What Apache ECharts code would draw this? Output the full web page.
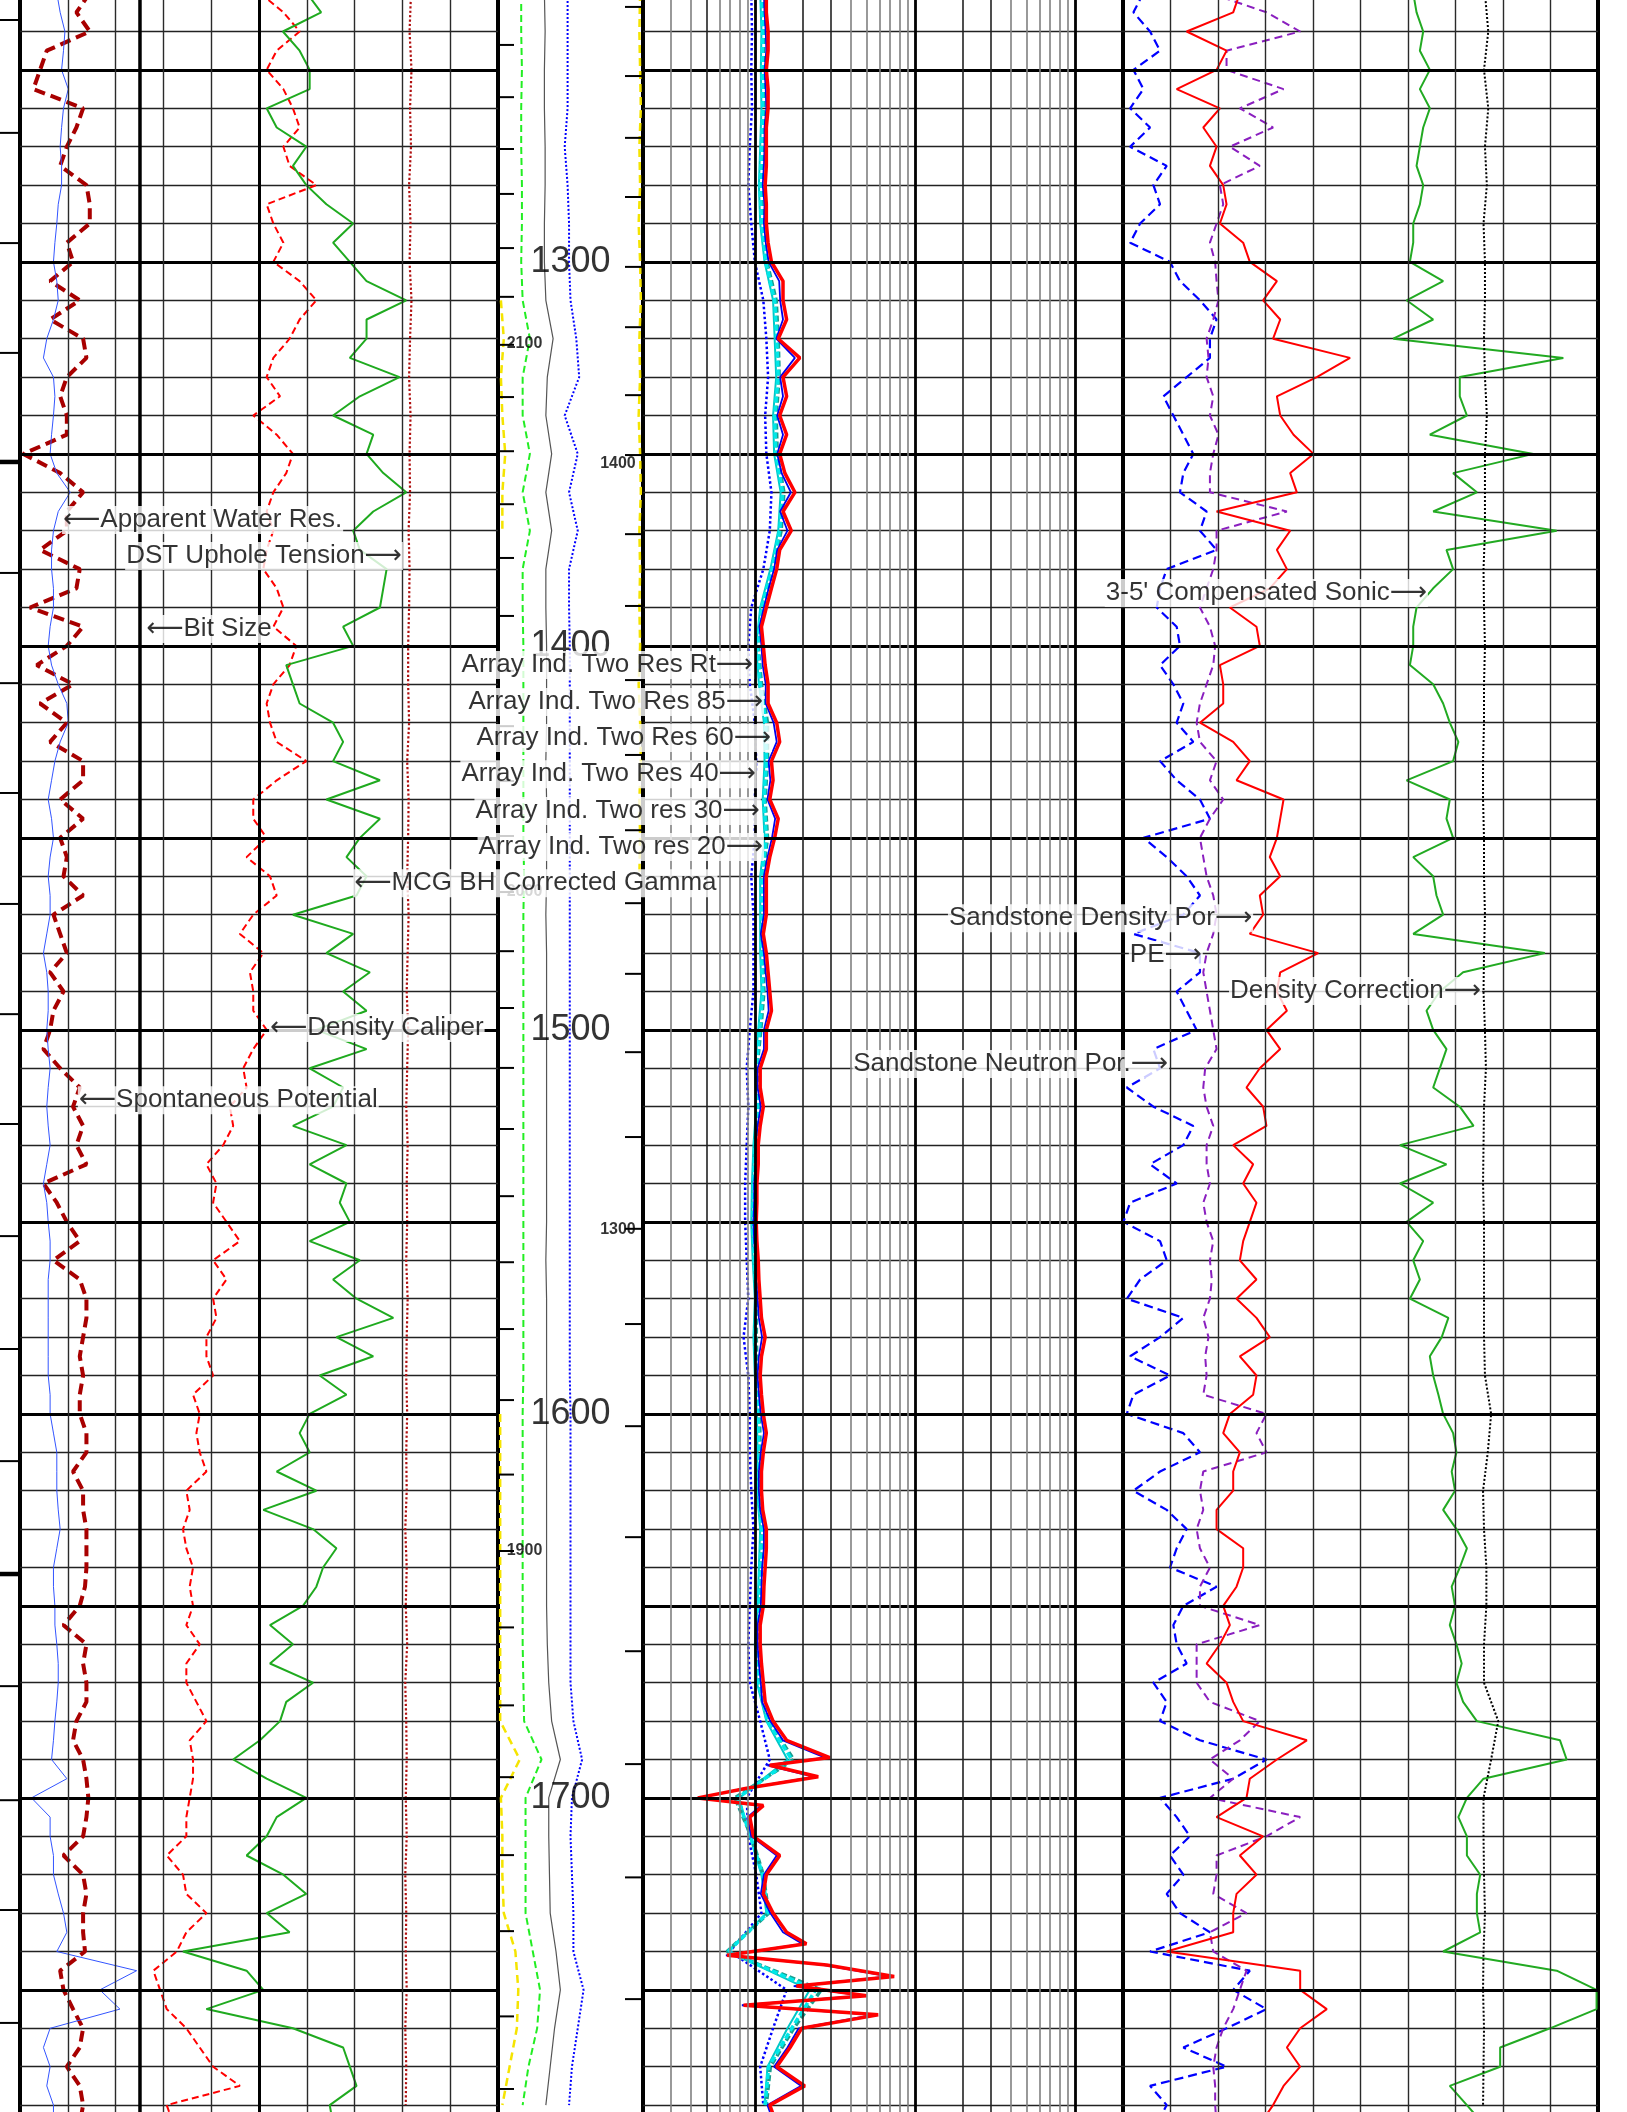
<!DOCTYPE html>
<html><head><meta charset="utf-8">
<script src="https://cdn.jsdelivr.net/npm/echarts/dist/echarts.min.js"></script>
<style>html,body{margin:0;padding:0;background:#fff}#c{width:1627px;height:2112px}</style>
</head><body><div id="c"></div>
<script>
const FONT = "'Liberation Sans', Arial, 'DejaVu Sans', sans-serif";

// ---- depth sampling (ft) ----
const depth = []; for (let d = 1230; d <= 1785; d += 5) depth.push(d);        // 112
const depth10 = []; for (let d = 1230; d <= 1780; d += 10) depth10.push(d);   // 56
const resDepth = []; for (let d = 1230; d <= 1685; d += 5) resDepth.push(d);
resDepth.push(1689.5,1691.5,1694.5,1697.5,1700,1702,1705, 1710,1715,1720,1725,1730,1735,
  1738,1741,1743.5,1746.5,1749,1751.5,1754,1756.5, 1760,1765,1770,1775,1780,1785); // 119

// ---- Track 1 (percent of track width) ----
const spontaneousPotential = [14.6,11.8,14.6,5.6,4.2,2.8,13.2,11.8,9.8,8.4,13.9,14.6,14.6,9.8,11.1,6.3,12.5,6.3,13.2,13.9,9.8,8.4,9.8,9.8,0.7,8.4,13.2,9.8,9.8,4.2,12.5,11.8,2.1,13.2,9.8,3.5,11.1,
  4.2,9.8,6.3,13.2,13.2,8.4,13.2,8.4,9.8,9.1,13.2,7,8.4,9.8,6.3,9.1,7,6.3,4.9,8.4,12.5,11.1,13.2,11.8,13.9,4.9,7.7,9.8,12.5,7,12.5,13.9,13.9,13.2,12.5,13.2,12.5,
  12.5,13.9,13.9,11.1,13.2,13.2,13.9,13.9,13.9,13.6,12.5,9.1,13.9,13.2,13.9,13.9,11.8,11.1,13.2,13.9,14.3,13.9,13.2,9.1,13.2,13.9,13.2,13.2,13.6,8.4,9.1,11.1,13.2,12.5,9.8,12.5,13.2,12.5];
const apparentWaterRes = [7.7,8.4,9.4,9.1,8.7,10.1,9.1,8.7,8.4,8.7,8.7,8,7.7,7.3,7,7.7,8,7,5.6,4.9,7,7.3,7,6.6,6.3,7.7,10.5,8,7,6.6,6.6,7,7,6.3,5.9,6.6,8,
  9.8,10.1,8.4,7.3,6.6,5.9,6.6,7,6.3,5.9,6.3,6.3,5.6,4.9,5.6,5.9,5.9,5.6,5.9,6.3,5.9,5.6,5.9,6.3,5.6,4.9,5.6,5.9,6.3,6.3,5.9,5.9,5.9,5.9,5.9,5.9,6.3,
  6.3,7,7.7,7.7,7.7,8,8.4,7.7,7,7,7.3,7.3,7.7,8,8,7.7,7.3,7,6.6,9.8,2.4,6.3,6.3,7,7,8,9.1,9.8,7.7,24.4,16.7,20.9,6.3,4.9,6.3,5.6,7,7];
const densityCaliper = [50.2,55.1,58.5,53.7,51.6,55.1,57.1,58.5,55.1,56.4,62,51.6,53,55.1,53,58.5,62,58.5,56.4,53,51.6,54.4,48.8,53.7,57.1,55.7,53,51.6,53,51.6,50.9,53.7,55.1,53,57.8,56.4,53,
  51.6,52.3,53.7,59.9,53.7,48.8,48.8,51.6,47.4,52.3,53.7,48.8,46,50.9,48.1,48.8,48.8,51.6,48.8,46.7,47.4,43.9,44.6,42.5,39,41.1,40.4,43.2,46,40.4,43.2,40.4,41.1,39,39,40.4,36.2,
  37.6,36.9,37.6,39,34.8,35.5,34.1,34.8,36.2,35.5,36.2,34.8,37.6,34.8,34.8,36.9,39,35.5,36.2,36.2,35.5,34.8,34.8,30.7,34.1,34.8,39,34.8,32.8,27.9,29.3,30.7,34.8,37.6,40.4,46,30.7,32.1];
const bhCorrectedGamma = [60,63,55,58.5,60.6,60.6,51.6,53.7,59.9,57.1,59.9,64.1,69.7,65.5,69,72.5,80.8,72.5,72.5,69,79.4,71.1,65.5,73.9,72.5,76,80.8,73.9,69.7,71.1,76.7,76,75.3,67.6,69.7,55.7,57.1,
  58.5,65.5,67.6,65.5,75.3,64.1,75.3,71.1,68.3,72.5,70.4,57.1,69.7,64.1,73.2,67.6,72.5,62,72.5,60.6,67.6,65.5,57.1,68.3,60.6,68.3,66.9,69,60.6,71.1,65.5,70.4,78.1,66.2,73.9,62.7,68.3,
  60.6,58.5,60.6,53.7,62,50.9,61.3,66.2,63.4,62,59.2,52.3,57.1,52.3,61.3,55.7,54.4,50.2,44.6,51.6,59.9,53.7,51.6,47.4,55.1,59.9,51.6,56.4,34.1,47.4,50.9,39,57.1,67.6,69,70.4,64.8,65.5];
const upholeTension = [81.8,81.5,81.9,81.6,81.8,81.4,81.7,81.5,81.9,81.6,81.4,81.7,81.5,81.6,81.3,81.5,81.4,81.2,
  81.2,81.4,81,81.3,81.2,81,81.3,81.1,80.9,81.2,81,80.8,81.1,80.9,81,80.8,81.1,80.9,80.8,81,
  80.8,80.9,80.6,80.9,80.7,81,80.6,80.8,80.9,80.7,80.9,80.6,80.8,80.7,80.9,80.6,80.8,80.7];
const bitSize = [25.1, 25.1];
const bitSizeDepth = [1230, 1790];

// ---- Track 2 (ohm-m, log 0.2 - 200) ----
const resRt = [1.18,1.18,1.21,1.21,1.18,1.21,1.21,1.18,1.18,1.18,1.16,1.18,1.18,1.21,1.27,1.50,1.50,1.58,1.40,1.91,1.50,1.58,1.43,1.58,1.43,1.54,1.78,1.50,1.69,1.43,1.37,1.27,1.18,1.10,1.13,1.16,1.21,
  1.21,1.37,1.43,1.27,1.30,1.24,1.40,1.33,1.24,1.18,1.18,1.18,1.13,1.18,1.21,1.24,1.27,1.18,1.18,1.08,1.08,1.13,1.08,1.05,1.05,1.03,1.03,1.02,1.03,1.05,1.06,1.08,1.10,1.16,1.10,1.08,1.10,
  1.13,1.18,1.13,1.10,1.10,1.12,1.18,1.18,1.16,1.14,1.13,1.08,1.08,1.10,1.13,1.16,1.30,1.58,
  2.94,1.24,2.49,0.89,0.44,1.13,0.93, 0.98,1.43,1.18,1.13,1.30,1.58, 2.10,0.67,2.81,7.43,1.82,4.99,0.85,5.90, 1.96,1.66,1.37,2.05,1.24,1.37];
const res85 = [1.14,1.15,1.17,1.18,1.15,1.17,1.18,1.15,1.15,1.14,1.12,1.15,1.14,1.17,1.22,1.42,1.44,1.50,1.36,1.78,1.44,1.50,1.38,1.50,1.38,1.47,1.68,1.44,1.60,1.38,1.32,1.22,1.14,1.07,1.10,1.12,1.17,
  1.17,1.31,1.37,1.22,1.25,1.20,1.34,1.28,1.20,1.14,1.14,1.14,1.09,1.14,1.17,1.20,1.22,1.14,1.14,1.04,1.04,1.09,1.04,1.01,1.01,0.99,0.99,0.98,0.99,1.01,1.02,1.04,1.06,1.11,1.06,1.04,1.06,
  1.09,1.14,1.09,1.06,1.06,1.08,1.14,1.14,1.11,1.10,1.09,1.04,1.04,1.06,1.09,1.11,1.25,1.50,
  2.75,1.20,2.35,0.86,0.45,1.09,0.90, 0.95,1.37,1.14,1.09,1.25,1.50, 1.98,0.66,2.65,6.90,1.75,4.70,0.83,5.50, 1.88,1.60,1.32,1.95,1.20,1.32];
const res60 = [1.10,1.12,1.11,1.12,1.10,1.08,1.10,1.17, 1.33,1.37,1.40,1.33,1.35,1.49,1.43,1.28,1.10,1.04, 1.08,1.17,1.18,1.14,1.18,1.10,1.10,1.10,1.12,1.07,
  1.02,1.04,1.00,0.98,0.97,0.99,1.02,1.00,1.02,1.05, 1.06,1.05,1.10,1.08,1.06,1.02,1.05,1.20,1.70,0.78, 0.94,1.12,1.20,0.68,2.4,1.7,1.22,1.16];
const res40 = [1.12,1.14,1.13,1.14,1.12,1.10,1.12,1.19, 1.36,1.40,1.42,1.36,1.38,1.52,1.46,1.30,1.12,1.05, 1.10,1.20,1.20,1.16,1.20,1.12,1.12,1.12,1.14,1.09,
  1.03,1.06,1.01,0.99,0.98,1.00,1.03,1.02,1.04,1.07, 1.08,1.07,1.12,1.10,1.08,1.04,1.07,1.22,1.75,0.75, 0.95,1.13,1.22,0.67,2.6,1.75,1.25,1.18];
const res30 = [1.08,1.10,1.09,1.10,1.08,1.06,1.08,1.15, 1.30,1.33,1.36,1.30,1.32,1.45,1.40,1.25,1.08,1.02, 1.06,1.14,1.15,1.12,1.15,1.08,1.08,1.08,1.10,1.05,
  1.00,1.02,0.98,0.96,0.95,0.97,1.00,0.98,1.00,1.03, 1.04,1.03,1.08,1.06,1.04,1.00,1.03,1.18,1.60,0.80, 0.93,1.10,1.18,0.68,2.2,1.6,1.2,1.15];
const res20 = [0.95,0.96,0.95,0.96,0.93,0.91,0.95,1.0, 1.13,1.18,1.21,1.16,1.18,1.27,1.24,1.13,0.95,0.91, 0.93,1.0,1.02,1.0,1.0,0.95,0.98,0.98,0.98,0.93,
  0.89,0.91,0.89,0.87,0.87,0.89,0.91,0.85,0.91,0.93, 0.93,0.95,0.98,0.95,0.93,0.91,0.93,1.08,1.24,0.89, 0.91,1.02,1.10,0.70,1.58,1.30,1.08,1.13];

// ---- Track 3 (percent of track width) ----
const compSonic = [61.1,61.8,63.2,62.5,64.6,62.5,64.6,63.2,62.5,61.8,63.2,62.5,61.1,61.1,60.4,67.4,59.7,65.3,56.9,92.7,70.9,70.9,72.4,64.6,86.4,69.5,74.5,65.3,91.3,68.1,69.5,65.3,61.8,61.1,61.1,60.4,65.3,
  67.4,68.8,70.6,69.5,59.7,68.8,68.1,69.5,61.1,65.3,66,67.4,61.1,88.8,71.6,66.7,63.9,65.3,68.1,66.7,65.3,70.9,73.8,58.3,68.1,58.3,
  65.3,59.7,63.2,61.1,62.5,60.4,68.5,67.1,64.6,65.3,66.4,67.4,69.5,70.2,69.2,69.9,67.4,70.2,72.4,70.9,69.2,69.9,68.8,70.2,71.3,70.2,
  71.6,74.5,92,93.4,75.9,72.4,70.6,72.4,72.4,75.2,74.5,74.5,75.2,67.4,91.3,99.7,99.7,89.9,79.4,79.4,68.8,72.4,75.9];
const densityPor = [24.6,23.2,13.4,21.8,19.7,11.3,20.4,16.9,19.7,18.3,21.1,21.8,20.4,25.3,26.7,32.4,29.5,33.1,31.6,47.8,40.8,32.4,33.1,35.9,40.1,35.2,36.6,19.7,35.2,32.4,34.5,30.9,22.5,28.1,28.8,20.4,21.1,
  21.1,16.2,23.2,26.7,23.9,33.8,33.1,32.4,30.9,33.1,28.8,29.5,26.7,41.1,33.1,32.4,34.5,30.2,33.1,28.8,26,29.5,30.2,23.2,27.4,25.3,
  28.1,26.7,25.3,24.6,28.1,23.9,28.1,30.9,24.6,28.1,27.4,22.5,21.1,24.6,23.2,23.2,19.7,19.7,25.3,25.3,23.9,21.1,22.5,20.4,17.6,21.8,
  23.2,25.3,38.7,32.4,26.7,26,19.7,29.5,24.6,28.1,23.9,23.2,23.2,9.2,37.3,37.3,42.9,37.3,34.5,37.3,33.8,31.6,28.8];
const photoElectric = [18.3,30.2,37.3,21.8,21.8,33.8,24.6,31.6,22.5,28.8,20.4,21.1,19.7,18.3,19.4,19.7,20.1,19,17.6,18,17.6,19,18.3,20.1,19,18.3,18.3,34.5,19.7,19.7,19,17.6,16.2,18.3,19.4,19,17.6,
  16.2,15.5,16.2,19.7,18.3,21.1,18.3,16.2,16.9,17.6,19,19.7,19,17.6,16.9,17.6,18.3,19,19.7,17.3,16.9,17.6,19,17.6,17.6,18.3,
  16.9,17.6,19,18.3,18.7,18.3,16.9,18,17.3,17.6,16.9,30.2,28.1,30.2,16.9,16.2,16.9,15.5,16.2,18.3,16.2,16.2,28.8,15.5,15.5,15.5,
  18.3,28.8,24.6,18.3,23.2,18.3,37.3,30.2,19.7,19.7,19,26,18.3,19,26,24.6,23.2,21.1,19.7,19,19.4,19.4,19.7];
const neutronPor = [4.3,2.2,5.7,7.8,2.2,4.3,1.5,5.7,1.5,9.2,6.4,7.8,3.6,1.5,9.9,12,16.2,19.7,18.3,18.3,13.4,8.5,10.6,12.7,14.8,12.7,12,17.6,16.2,19.7,9.2,7.8,7.1,11.3,12,7.8,10.6,
  12.7,11.3,14.8,7.8,11.3,16.2,18.3,4.3,9.2,13.4,16.2,12.7,2.2,16.2,16.2,11.3,13.4,15.5,6.4,7.8,0.8,6.4,14.8,12.7,5.7,11.3,
  1.5,0.1,7.8,9.2,3.6,0.8,12.7,7.8,1.5,9.9,2.2,0.8,12.7,16.2,7.8,2.2,9.2,13.4,11.3,9.9,19.7,12.7,10.6,11.3,13.4,6.4,
  9.2,7.8,16.2,30.2,23.2,7.8,11.3,14.1,9.9,12.7,9.2,12,18.3,5.7,26.7,23.2,30.2,21.8,12.7,21.8,5.7,9.2,7.1];
const densityCorr = [76.2,76.9,76,76.9,76.2,76.6,75.9,76.2,76.2,76,76.2,76.6,76.2,76.2,76.2,75.9,76,76.2,76,76,
  75.8,75.8,76,76,76.2,76,75.9,76.2,76.4,76,75.9,75.8,76,76,76,76,76.2,77.5,76.8,75.8,
  76,76.5,76.5,76,76,79,77.5,75.9,75.9,76,76.2,75.9,75.8,76,75.9,75.8];

// ---- Depth track overlay curves (percent of depth-track width) ----
const N = null;
const dtYellowL = [N,N,N,N,N,N,N,N, 2,4,2,3,5,3,3,N,N,N, N,N,N,N,N,N,N,N,N,N, N,N,N,N,N,N,N,N,N,1.5, 1.5,1.5,1.5,1.5,1.5,1.5,1.5,1.5,15,2, 3,3,4,12,14,13,8,3];
const dtYellowR = [98,97.5,98,98.5,97.5,98,97,98,98.5,97.5,98,97,98,98.5,97.5,98,97.5,98,97,98,98.5,97.5,98,97.5,
  N,N,N,N,N,N,N,N,N,N,N,N,N,N,N,N,N,N,N,N,N,N,N,N,N,N,N,N,N,N,N,N];
const dtGreen = [16,16,16.5,16,16,16.5,16.5,16, 17,22,17,17,22,17,22,17,17,17.5, 17.5,17.5,17.5,17.5,17.5,18,17.5,17.5,17.5,17.5,
  17.5,17.5,17.5,17.5,17.5,17.5,17.5,17.5,17.5,17, 17,17,17,17,17,17,17.5,18,30,19, 19,19,19,24,29,27,21,17];
const dtGray = [32,32.5,32,32,32.5,32.5,32,32, 33,38,34,33,37,33,37,33,33,33.5, 33.5,33.5,33,33.5,33.5,33.5,33,33.5,33.5,33.5,
  33.5,33.5,33.5,33.5,33.5,33,33.5,33.5,33.5,33.5, 33.5,33.5,33.5,33.5,33.5,34,35,37,43,35, 35,35.5,36,40,43,39,36,33];
const dtBlue = [48,48,48,48,46,48,49,49, 50,54,56,46,55,49,55,49,49,49.5, 49.5,49.5,49.5,49.5,49.5,49.5,49.5,49.5,49.5,49.5,
  49.5,49.5,49.5,49.5,49.5,49.5,49.5,49.5,49.5,50, 50,50,50,50,50,50,50,52,58,51, 50,51,52,52,59,55,51,49];

// ---- ticks / labels / grid positions ----
const edgeTicks = [1237.0,1266.4,1295.1,1323.7,1352.1,1381.0,1409.7,1438.3,1467.2,1495.9,1524.5,1553.7,1583.1,1612.3,1641.7,1670.9,1700.6,1729.2,1758.6];
const edgeMajor = [1352.1, 1641.7];
const dtLeftTicks = [1243.5,1257.1,1270.6,1282.3,1296.4,1309.1,1321.6,1335.2,1349.3,1363.1,1377.1,1392.2,1406.5,1420.9,1435.2,1449.5,1464.1,1479.5,1494.3,1509.9,1525.8,1543.3,1560.5,1577.9,1596.4,1615.8,1635.7,1655.6,1675.9,1694.6,1714.9,1734.7,1756.9,1775.8];
const dtRightTicks = [1233.6,1251.6,1267.7,1283.1,1301.3,1317,1334.7,1350.3,1370.9,1389.6,1408.9,1428.4,1448,1467,1485.4,1505.8,1527.9,1551.8,1576.6,1603.2,1632.1,1661.8,1691.2,1720.7,1752.4];
const depthLabels = [1300, 1400, 1500, 1600, 1700];
const leftScaleLabels = [['2100', 1321.4], ['2000', 1464.1], ['1900', 1635.7]];
const rightScaleLabels = [['1400', 1352.6], ['1300', 1552.1]];
const thickDepths = [1250,1300,1350,1400,1450,1500,1550,1600,1650,1700,1750];
const linearDivisions = [10,20,30,40,60,70,80,90];
const logMinor = [0.3,0.4,0.5,0.6,0.7,0.8,0.9,2,3,4,5,6,7,8,9,20,30,40,50,60,70,80,90];
const logMajor = [1, 10, 100];
const annotations = [
  ['\u27F5Apparent Water Res.', 0, 8.8, 1367.2, 'right'],
  ['DST Uphole Tension\u27F6', 0, 80.1, 1376.6, 'left'],
  ['\u27F5Bit Size', 0, 26.2, 1395.6, 'right'],
  ['\u27F5MCG BH Corrected Gamma', 0, 69.7, 1461.8, 'right'],
  ['\u27F5Density Caliper', 0, 52.1, 1499.5, 'right'],
  ['\u27F5Spontaneous Potential', 0, 12.1, 1518.3, 'right'],
  ['Array Ind. Two Res Rt\u27F6', 2, 0.99, 1405.0, 'left'],
  ['Array Ind. Two Res 85\u27F6', 2, 1.14, 1414.6, 'left'],
  ['Array Ind. Two Res 60\u27F6', 2, 1.28, 1424.0, 'left'],
  ['Array Ind. Two Res 40\u27F6', 2, 1.03, 1433.4, 'left'],
  ['Array Ind. Two res 30\u27F6', 2, 1.09, 1443.0, 'left'],
  ['Array Ind. Two res 20\u27F6', 2, 1.14, 1452.4, 'left'],
  ["3-5' Compensated Sonic\u27F6", 3, 64.2, 1386.2, 'left'],
  ['Sandstone Density Por\u27F6', 3, 27.4, 1470.9, 'left'],
  ['PE\u27F6', 3, 16.8, 1480.5, 'left'],
  ['Density Correction\u27F6', 3, 75.6, 1489.9, 'left'],
  ['Sandstone Neutron Por.\u27F6', 3, 9.7, 1508.9, 'left']
];

// ---- layout ----
const TRACKS = [{left:20,width:478},{left:498,width:145},{left:643,width:480},{left:1123,width:475}];
const GTOP = -6.9, GH = 2150.4; // maps 1230 ft .. 1790 ft

const hidden = {axisLine:{show:false}, axisTick:{show:false}, axisLabel:{show:false}};
const grid = TRACKS.map((t,i)=>({left:t.left, width:t.width, top:GTOP, height:GH, show:i!==1,
  borderColor:'#000', borderWidth:4, backgroundColor:'rgba(0,0,0,0)', containLabel:false, outerBoundsMode:'none'}));
const xAxis = [
  Object.assign({gridIndex:0, type:'value', min:0, max:100, splitLine:{show:false}}, hidden),
  Object.assign({gridIndex:1, type:'value', min:0, max:100, splitLine:{show:false}}, hidden),
  Object.assign({gridIndex:2, type:'log', logBase:10, min:0.2, max:200, splitLine:{show:false}, minorSplitLine:{show:false}}, hidden),
  Object.assign({gridIndex:3, type:'value', min:0, max:100, splitLine:{show:false}}, hidden)
];
const yAxis = [0,1,2,3].map(i=>Object.assign({gridIndex:i, type:'value', inverse:true, min:1230, max:1790, interval:10,
  splitLine:{show:i!==1, lineStyle:{color:'#222', width:1.3}}}, hidden));

function pts(xs, ds){ return ds.map((d,i)=>[(xs[i]==null?'-':xs[i]), d]); }
function curve(name, gi, xs, ds, color, width, type, z){
  return {name, type:'line', xAxisIndex:gi, yAxisIndex:gi, data:pts(xs, ds), symbol:'none', showSymbol:false,
    connectNulls:false, silent:true, z:z||3, lineStyle:{color, width, type:type||'solid', cap:'butt'}};
}
function lines(gi, items){
  return {type:'line', xAxisIndex:gi, yAxisIndex:gi, data:[], z:1, silent:true,
    markLine:{symbol:['none','none'], silent:true, animation:false, label:{show:false}, emphasis:{disabled:true}, data:items}};
}
const thickItems = thickDepths.map(d=>({yAxis:d, lineStyle:{color:'#000', width:3.2, type:'solid'}}));
const divItems = linearDivisions.map(v=>({xAxis:v, lineStyle:{color:'#2a2a2a', width:1.4, type:'solid'}}));

function ticks(gi, ds, xv, len, widthOf){
  return {type:'custom', xAxisIndex:gi, yAxisIndex:gi, silent:true, z:4, clip:false,
    data: ds.map(d=>[xv, d]),
    renderItem:(params, api)=>{
      const p = api.coord([api.value(0), api.value(1)]);
      const w = widthOf ? widthOf(api.value(1)) : 2;
      const L = (w > 3 ? len * 1.15 : len);
      return {type:'line', shape:{x1:p[0], y1:p[1], x2:p[0]+L, y2:p[1]}, style:{stroke:'#000', lineWidth:w}};
    }};
}

const series = [
  lines(0, thickItems.concat(divItems, [{xAxis:50, lineStyle:{color:'#000', width:3, type:'solid'}}])),
  lines(2, thickItems.concat(
    logMinor.map(v=>({xAxis:v, lineStyle:{color:([0.5,2,3,20,30].indexOf(v)>=0?'#222':'#808080'), width:1.6, type:'solid'}})),
    logMajor.map(v=>({xAxis:v, lineStyle:{color:'#000', width:2.8, type:'solid'}})))),
  lines(3, thickItems.concat(divItems, [{xAxis:50, lineStyle:{color:'#2a2a2a', width:1.4, type:'solid'}}])),

  // track 1
  curve('Bit Size', 0, bitSize, bitSizeDepth, '#000', 3.5, 'solid', 2),
  curve('DST Uphole Tension', 0, upholeTension, depth10, '#b01010', 2.2, 'dotted'),
  curve('Density Caliper', 0, densityCaliper, depth, '#ff0000', 2, [7,4]),
  curve('MCG BH Corrected Gamma', 0, bhCorrectedGamma, depth, '#1faa1f', 2),
  curve('Spontaneous Potential', 0, spontaneousPotential, depth, '#a80000', 4, [11,6]),
  curve('Apparent Water Res.', 0, apparentWaterRes, depth, '#3355ff', 1),

  // depth track
  curve('dt yellow L', 1, dtYellowL, depth10, '#f5e400', 2.5, [8,5]),
  curve('dt yellow R', 1, dtYellowR, depth10, '#f5e400', 2.5, [8,5]),
  curve('dt green', 1, dtGreen, depth10, '#22ee22', 2, [7,4]),
  curve('dt gray', 1, dtGray, depth10, '#555555', 1.2),
  curve('dt blue', 1, dtBlue, depth10, '#0000ff', 2, 'dotted'),

  // track 2
  curve('Array Ind. Two res 20', 2, res20, depth10, '#0000ff', 2.5, 'dotted'),
  curve('Array Ind. Two res 30', 2, res30, depth10, '#00c8c8', 2),
  curve('Array Ind. Two Res 40', 2, res40, depth10, '#1a9e8f', 3.5, [6,3]),
  curve('Array Ind. Two Res 60', 2, res60, depth10, '#00e8e8', 3.5, [6,3]),
  curve('Array Ind. Two Res 85', 2, res85, resDepth, '#0000ee', 1.8),
  curve('Array Ind. Two Res Rt', 2, resRt, resDepth, '#ff0000', 3.5, 'solid', 4),

  // track 3
  curve('Sandstone Neutron Por.', 3, neutronPor, depth, '#0000ff', 2.2, [9,5]),
  curve('PE', 3, photoElectric, depth, '#8a1fbf', 2, [8,5]),
  curve('Sandstone Density Por', 3, densityPor, depth, '#ff0000', 2),
  curve("3-5' Compensated Sonic", 3, compSonic, depth, '#22aa22', 2),
  curve('Density Correction', 3, densityCorr, depth10, '#000000', 2, 'dotted'),

  // ticks
  ticks(0, edgeTicks, 0, -20, d=>edgeMajor.indexOf(d)>=0?4.5:2),
  ticks(1, dtLeftTicks, 0, 16),
  ticks(1, dtRightTicks, 100, -18),

  // depth numbers
  {type:'scatter', xAxisIndex:1, yAxisIndex:1, symbolSize:0, silent:true, z:8,
    data: depthLabels.map(d=>[50, d]),
    label:{show:true, position:'inside', formatter:p=>String(p.value[1]), fontSize:36, fontFamily:FONT, color:'#000'}},
  {type:'scatter', xAxisIndex:1, yAxisIndex:1, symbolSize:0, silent:true, z:8,
    data: leftScaleLabels.map(a=>({value:[6, a[1]], name:a[0]})),
    label:{show:true, position:'right', distance:0, formatter:'{b}', fontSize:16, fontWeight:'bold', fontFamily:FONT, color:'#000'}},
  {type:'scatter', xAxisIndex:1, yAxisIndex:1, symbolSize:0, silent:true, z:8,
    data: rightScaleLabels.map(a=>({value:[95, a[1]], name:a[0]})),
    label:{show:true, position:'left', distance:0, formatter:'{b}', fontSize:16, fontWeight:'bold', fontFamily:FONT, color:'#000'}}
];

// annotation labels, one scatter series per track
[0,2,3].forEach(gi=>{
  series.push({type:'scatter', xAxisIndex:gi, yAxisIndex:gi, symbolSize:0, silent:true, z:30, clip:false,
    data: annotations.filter(a=>a[1]===gi).map(a=>({value:[a[2], a[3]], name:a[0], label:{position:a[4]}})),
    label:{show:true, distance:0, formatter:'{b}', fontSize:26, fontFamily:FONT, color:'#000',
      backgroundColor:'#fff', padding:[1,1,0,1], lineHeight:27}});
});

const chart = echarts.init(document.getElementById('c'), null, {renderer:'canvas', width:1627, height:2112});
chart.setOption({animation:false, backgroundColor:'#fff', grid, xAxis, yAxis, series});
</script></body></html>
